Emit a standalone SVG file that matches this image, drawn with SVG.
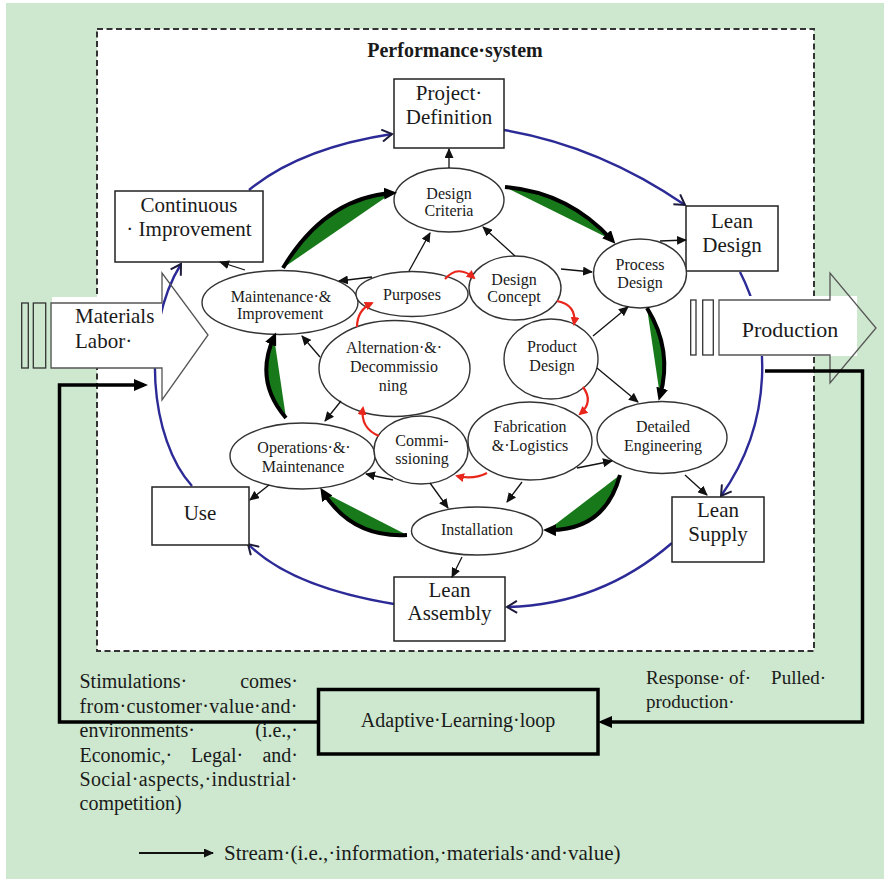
<svg xmlns="http://www.w3.org/2000/svg" width="889" height="883" viewBox="0 0 889 883">
  <defs>
    <style>
      text { font-family: 'Liberation Serif', 'Times New Roman', serif; fill: #1a1a1a; }
      .box { fill: #fff; stroke: #222; stroke-width: 1.5; }
      .ell { fill: #fff; stroke: #333; stroke-width: 1.4; }
      .bl { font-size: 21px; text-anchor: middle; }
      .el { font-size: 16px; text-anchor: middle; }
      .note { font-size: 20px; }
      .thin { fill: none; stroke: #111; stroke-width: 1.3; marker-end: url(#ah); }
      .red { fill: none; stroke: #e8261c; stroke-width: 2.2; marker-end: url(#ahRed); }
      .blue { fill: none; stroke: #2c2a96; stroke-width: 2.4; marker-end: url(#ahBlue); }
      .gfill { fill: #17791a; stroke: none; }
      .gline { fill: none; stroke: #000; stroke-width: 4; marker-end: url(#ahBig); }
      .loop { fill: none; stroke: #000; stroke-width: 3.5; marker-end: url(#ahThick); }
      .bigarrow { fill: none; stroke: #555; stroke-width: 1.3; }
      .bar { fill: none; stroke: #333; stroke-width: 1.3; }
    </style>
    <marker id="ah" markerUnits="userSpaceOnUse" markerWidth="10" markerHeight="9" refX="9" refY="4.5" orient="auto">
      <path d="M0,0 L10,4.5 L0,9 z" fill="#111"/>
    </marker>
    <marker id="ahBig" markerUnits="userSpaceOnUse" markerWidth="13" markerHeight="12" refX="8" refY="6" orient="auto">
      <path d="M0,0 L13,6 L0,12 z" fill="#000"/>
    </marker>
    <marker id="ahRed" markerUnits="userSpaceOnUse" markerWidth="9" markerHeight="9" refX="7" refY="4.5" orient="auto">
      <path d="M0,0 L9,4.5 L0,9 z" fill="#e8261c"/>
    </marker>
    <marker id="ahBlue" markerUnits="userSpaceOnUse" markerWidth="14" markerHeight="14" refX="11" refY="7" orient="auto">
      <path d="M1,1 L11,7 L1,13" fill="none" stroke="#1d1b3a" stroke-width="2"/>
    </marker>
    <marker id="ahThick" markerUnits="userSpaceOnUse" markerWidth="14" markerHeight="12" refX="10" refY="6" orient="auto">
      <path d="M0,0 L14,6 L0,12 z" fill="#000"/>
    </marker>
  </defs>

  <!-- page background -->
  <rect x="0" y="0" width="889" height="883" fill="#fff"/>
  <rect x="6" y="3" width="878" height="876" fill="#cde8cf"/>

  <!-- performance system frame -->
  <g id="performance-system">
    <rect x="97" y="29" width="717" height="622" fill="#fff" stroke="#333" stroke-width="2" stroke-dasharray="6 3.5"/>
    <text x="455" y="57" font-size="20" font-weight="bold" text-anchor="middle">Performance·system</text>
  </g>

  <!-- outer lean cycle (blue) -->
  <g id="outer-cycle">
    <path class="blue" d="M249,190 Q300,148 392,134"/>
    <path class="blue" d="M504,130 Q599,146 685,205"/>
    <path class="blue" d="M740,272 C770,330 775,420 721,496"/>
    <path class="blue" d="M672,543 Q600,605 507,607"/>
    <path class="blue" d="M394,604 Q291,587 248,544"/>
    <path class="blue" d="M192,486 C150,440 140,330 181,264"/>
  </g>

  <!-- input / output block arrows -->
  <g id="materials-labor">
    <rect x="52" y="297" width="110" height="71" fill="#fff"/>
    <rect class="bar" x="21.7" y="303" width="6.6" height="65"/>
    <rect class="bar" x="33.3" y="303" width="12.4" height="65"/>
    <polygon class="bigarrow" points="51,303 162,303 162,273 208,335 162,400 162,368 51,368"/>
    <text x="75" y="323" font-size="21">Materials</text>
    <text x="75" y="348" font-size="21">Labor·</text>
  </g>
  <g id="production">
    <rect x="719" y="296" width="138" height="60" fill="#fff"/>
    <rect class="bar" x="690.7" y="300" width="5.3" height="55"/>
    <rect class="bar" x="702.7" y="300" width="10.6" height="55"/>
    <polygon class="bigarrow" points="719,300 830,300 830,273 876,328 830,383 830,355 719,355"/>
    <text x="790" y="337" font-size="22" text-anchor="middle">Production</text>
  </g>

  <!-- boxes of the lean cycle -->
  <g id="project-definition">
    <rect class="box" x="394" y="79" width="110" height="69"/>
    <text class="bl" x="449" y="100">Project·</text>
    <text class="bl" x="449" y="124">Definition</text>
  </g>
  <g id="continuous-improvement">
    <rect class="box" x="115" y="191" width="148" height="71"/>
    <text class="bl" x="189" y="212">Continuous</text>
    <text class="bl" x="189" y="236">· Improvement</text>
  </g>
  <g id="lean-design">
    <rect class="box" x="686" y="206" width="92" height="65"/>
    <text class="bl" x="732" y="228">Lean</text>
    <text class="bl" x="732" y="252">Design</text>
  </g>
  <g id="lean-supply">
    <rect class="box" x="672" y="497" width="92" height="65"/>
    <text class="bl" x="718" y="517">Lean</text>
    <text class="bl" x="718" y="541">Supply</text>
  </g>
  <g id="lean-assembly">
    <rect class="box" x="394" y="577" width="111" height="64"/>
    <text class="bl" x="449.5" y="597">Lean</text>
    <text class="bl" x="449.5" y="620">Assembly</text>
  </g>
  <g id="use">
    <rect class="box" x="152" y="487" width="97" height="58"/>
    <text class="bl" x="200" y="520">Use</text>
  </g>

  <!-- project phases -->
  <g id="design-criteria">
    <ellipse class="ell" cx="449" cy="200" rx="55" ry="32"/>
    <text class="el" x="449" y="199">Design</text>
    <text class="el" x="449" y="216">Criteria</text>
  </g>
  <g id="process-design">
    <ellipse class="ell" cx="640" cy="273.5" rx="46.5" ry="34.5"/>
    <text class="el" x="640" y="270">Process</text>
    <text class="el" x="640" y="288">Design</text>
  </g>
  <g id="design-concept">
    <ellipse class="ell" cx="515" cy="288" rx="46" ry="32"/>
    <text class="el" x="514" y="285">Design</text>
    <text class="el" x="514" y="302">Concept</text>
  </g>
  <g id="maintenance-improvement">
    <ellipse class="ell" cx="280" cy="302.5" rx="78" ry="32"/>
    <text class="el" x="281" y="302">Maintenance·&amp;</text>
    <text class="el" x="280" y="319">Improvement</text>
  </g>
  <g id="purposes">
    <ellipse class="ell" cx="412" cy="294" rx="56" ry="22.5"/>
    <text class="el" x="412" y="300">Purposes</text>
  </g>
  <g id="alternation-decommissioning">
    <ellipse class="ell" cx="394.5" cy="368.5" rx="75.5" ry="48"/>
    <text class="el" x="394" y="353">Alternation·&amp;·</text>
    <text class="el" x="394" y="372">Decommissio</text>
    <text class="el" x="393" y="391">ning</text>
  </g>
  <g id="product-design">
    <ellipse class="ell" cx="551" cy="359" rx="47" ry="40"/>
    <text class="el" x="552" y="352">Product</text>
    <text class="el" x="552" y="371">Design</text>
  </g>
  <g id="operations-maintenance">
    <ellipse class="ell" cx="302.5" cy="456" rx="72.5" ry="33"/>
    <text class="el" x="304" y="453">Operations·&amp;·</text>
    <text class="el" x="303" y="472">Maintenance</text>
  </g>
  <g id="commissioning">
    <ellipse class="ell" cx="421" cy="450" rx="47" ry="34"/>
    <text class="el" x="422" y="446">Commi-</text>
    <text class="el" x="422" y="464">ssioning</text>
  </g>
  <g id="fabrication-logistics">
    <ellipse class="ell" cx="530" cy="441" rx="62" ry="39"/>
    <text class="el" x="530" y="432">Fabrication</text>
    <text class="el" x="530" y="451">&amp;·Logistics</text>
  </g>
  <g id="detailed-engineering">
    <ellipse class="ell" cx="662" cy="437.5" rx="65" ry="36"/>
    <text class="el" x="663" y="432">Detailed</text>
    <text class="el" x="663" y="451">Engineering</text>
  </g>
  <g id="installation">
    <ellipse class="ell" cx="477" cy="531" rx="65.5" ry="24"/>
    <text class="el" x="477" y="535">Installation</text>
  </g>

  <!-- adaptive learning loop -->
  <g id="adaptive-learning-loop">
    <rect x="318.5" y="689.5" width="279.5" height="64.5" fill="none" stroke="#000" stroke-width="3.5"/>
    <text x="458" y="727" font-size="20" text-anchor="middle">Adaptive·Learning·loop</text>
  </g>

  <!-- connectors -->
  <g id="connectors">
    <!-- feedback loop -->
    <path class="loop" d="M765,371 H862.5 V722 H602"/>
    <path class="loop" d="M318,722 H59.5 V385 H144"/>

    <!-- streams between phases -->
    <path class="thin" d="M449,168 L449,149"/>
    <path class="thin" d="M515,256 L483,227"/>
    <path class="thin" d="M409,271 L430,233"/>
    <path class="thin" d="M372,277 L339,281"/>
    <path class="thin" d="M245,270 L220,262"/>
    <path class="thin" d="M561,269 L592,272"/>
    <path class="thin" d="M660,241 L686,240"/>
    <path class="thin" d="M593,336 L628,307"/>
    <path class="thin" d="M597,368 L638,402"/>
    <path class="thin" d="M577,468 L612,461"/>
    <path class="thin" d="M522,482 L507,502"/>
    <path class="thin" d="M685,475 L707,495"/>
    <path class="thin" d="M462,557 L452,577"/>
    <path class="thin" d="M320,357 L302,336"/>
    <path class="thin" d="M341,401 L325,421"/>
    <path class="thin" d="M393,480 L366,474"/>
    <path class="thin" d="M430,483 L448,508"/>
    <path class="thin" d="M269,485 L250,500"/>

    <!-- main flow (green crescents) -->
    <path class="gfill" d="M283,268 Q325,198 392,193 Z"/>
    <path class="gline" d="M283,268 Q325,198 392,193"/>
    <path class="gfill" d="M505,187 Q568,192 612,240 Z"/>
    <path class="gline" d="M505,187 Q568,192 612,240"/>
    <path class="gfill" d="M647,308 Q673,350 660,396 Z"/>
    <path class="gline" d="M647,308 Q673,350 660,396"/>
    <path class="gfill" d="M620,475 Q605,531 548,530 Z"/>
    <path class="gline" d="M620,475 Q605,531 548,530"/>
    <path class="gfill" d="M407,535 Q352,538 323,492 Z"/>
    <path class="gline" d="M407,535 Q352,538 323,492"/>
    <path class="gfill" d="M286,418 Q254,381 274,337 Z"/>
    <path class="gline" d="M286,418 Q254,381 274,337"/>

    <!-- inner cycle (red) -->
    <path class="red" d="M445,279 Q458,264 474,278"/>
    <path class="red" d="M557,301 Q577,305 574,324"/>
    <path class="red" d="M583,387 Q594,402 580,414"/>
    <path class="red" d="M487,473 Q473,480 457,476"/>
    <path class="red" d="M379,436 Q360,428 363,408"/>
    <path class="red" d="M357,327 Q357,310 372,303"/>
  </g>

  <!-- notes -->
  <g id="stimulations-note" class="note">
    <text x="79.5" y="688">Stimulations·</text>
    <text x="298" y="688" text-anchor="end">comes·</text>
    <text x="79.5" y="712.5" textLength="218" lengthAdjust="spacing">from·customer·value·and·</text>
    <text x="79.5" y="737">environments·</text>
    <text x="298" y="737" text-anchor="end">(i.e.,·</text>
    <text x="79.5" y="761.5">Economic,·</text>
    <text x="217" y="761.5" text-anchor="middle">Legal·</text>
    <text x="298" y="761.5" text-anchor="end">and·</text>
    <text x="79.5" y="786" textLength="218" lengthAdjust="spacing">Social·aspects,·industrial·</text>
    <text x="79.5" y="810">competition)</text>
  </g>
  <g id="response-note" font-size="19">
    <text x="646" y="684">Response·</text>
    <text x="729" y="684">of·</text>
    <text x="826" y="684" text-anchor="end">Pulled·</text>
    <text x="646" y="708">production·</text>
  </g>

  <!-- legend -->
  <g id="legend">
    <path d="M139,853 H213" fill="none" stroke="#111" stroke-width="1.8" marker-end="url(#ah)"/>
    <text x="224" y="860" font-size="21">Stream·(i.e.,·information,·materials·and·value)</text>
  </g>
</svg>
